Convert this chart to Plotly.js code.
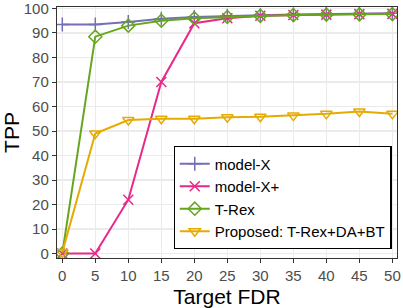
<!DOCTYPE html>
<html><head><meta charset="utf-8">
<script src="https://cdn.plot.ly/plotly-3.0.1.min.js"></script>
<style>html,body{margin:0;padding:0;background:#fff}#c{width:403px;height:308px}</style>
</head><body><div id="c"></div>
<script>
const targetFDR = [0, 5, 10, 15, 20, 25, 30, 35, 40, 45, 50];
const modelX = [93.5, 93.5, 94.5, 95.8, 96.5, 97, 97.2, 97.5, 97.7, 97.8, 98];
const modelXplus = [0, 0, 22, 70, 94, 96, 97, 97.3, 97.5, 97.7, 97.8];
const tRex = [0, 88.5, 93, 95, 96, 96.5, 97, 97.3, 97.5, 97.6, 97.7];
const proposed = [0.5, 49, 54.5, 55, 55, 55.6, 55.8, 56.3, 57, 58, 57];
const seriesNames = ["model-X", "model-X+", "T-Rex", "Proposed: T-Rex+DA+BT"];
const colors = ["#7570b3", "#e7298a", "#66a61e", "#e6ab02"];
const symbols = ["cross-thin-open", "x-thin-open", "diamond-open", "triangle-down-open"];
const ys = [modelX, modelXplus, tRex, proposed];
const yTicks = [0, 10, 20, 30, 40, 50, 60, 70, 80, 90, 100];

const traces = ys.map((y, i) => ({
  x: targetFDR, y: y, name: seriesNames[i], type: "scatter", mode: "lines+markers",
  line: {color: colors[i], width: 2},
  marker: {symbol: symbols[i], size: 10, color: colors[i], line: {color: colors[i], width: 1.5}}
}));

const font = "Liberation Sans, Arial, Helvetica, sans-serif";
const layout = {
  width: 403, height: 308,
  margin: {l: 57, r: 6, t: 7, b: 49.5},
  paper_bgcolor: "#fff", plot_bgcolor: "#fff",
  showlegend: true,
  font: {family: font, color: "#000"},
  xaxis: {
    range: [-0.8, 50.7], tickvals: targetFDR, ticktext: targetFDR.map(String),
    showgrid: true, gridcolor: "#ebebeb", gridwidth: 1.5, zeroline: false,
    showline: true, linecolor: "#333", linewidth: 1.2, mirror: true,
    ticks: "outside", ticklen: 4, tickcolor: "#333", tickwidth: 1,
    ticklabeloverflow: "allow",
    tickfont: {size: 15, color: "#4d4d4d", family: font},
    title: {text: "Target FDR", font: {size: 21, color: "#000", family: font}, standoff: 9}
  },
  yaxis: {
    range: [-1.8, 100.6], tickvals: yTicks, ticktext: yTicks.map(String),
    showgrid: true, gridcolor: "#ebebeb", gridwidth: 1.5, zeroline: false,
    showline: true, linecolor: "#333", linewidth: 1.2, mirror: true,
    ticks: "outside", ticklen: 4, tickcolor: "#333", tickwidth: 1,
    ticklabeloverflow: "allow",
    tickfont: {size: 15, color: "#4d4d4d", family: font},
    title: {text: "TPP", font: {size: 21, color: "#000", family: font}, standoff: 6}
  },
  legend: {
    x: 0.984, xanchor: "right", y: 0.035, yanchor: "bottom",
    bgcolor: "#fff", bordercolor: "#000", borderwidth: 1.2,
    font: {size: 15, color: "#000", family: font},
    tracegroupgap: 0
  }
};
Plotly.newPlot("c", traces, layout, {displayModeBar: false, staticPlot: true});
</script></body></html>
